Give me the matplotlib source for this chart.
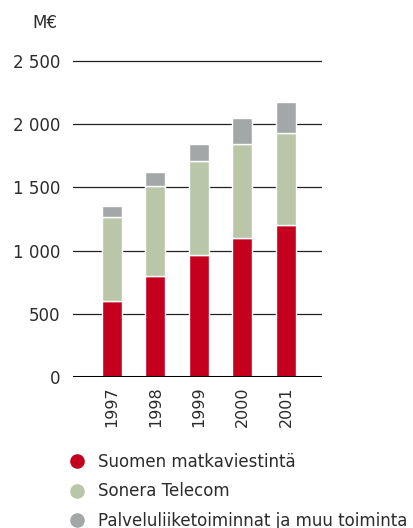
import numpy as np
import matplotlib
matplotlib.use('Agg')
import matplotlib.pyplot as plt
from matplotlib.lines import Line2D

# ── Data (M€)
years   = ['1997', '1998', '1999', '2000', '2001']
mobile  = [604, 799, 963, 1100, 1200]     # Suomen matkaviestintä
telecom = [659, 710, 743, 743, 733]       # Sonera Telecom
other   = [90, 113, 137, 204, 243]        # Palveluliiketoiminnat ja muu toiminta
series_names = ['Suomen matkaviestintä', 'Sonera Telecom',
                'Palveluliiketoiminnat ja muu toiminta']
yticks = [0, 500, 1000, 1500, 2000, 2500]
ytick_labels = ['0', '500', '1 000', '1 500', '2 000', '2 500']

RED   = '#C4001E'
GREEN = '#B9C6A8'
GRAY  = '#A4A7A8'
TXT   = '#2B2B2B'

plt.rcParams['font.family'] = ['DejaVu Sans']

W, H = 414, 528
fig = plt.figure(figsize=(W / 100, H / 100), dpi=100, facecolor='white')

# axes placed in pixel terms
px_per_unit = 63.2 / 500
ymax = 2600
ax_left, ax_right = 73, 322
ax_bottom = 377
ax_top = ax_bottom - ymax * px_per_unit
ax = fig.add_axes([ax_left / W, 1 - ax_bottom / H,
                   (ax_right - ax_left) / W, (ax_bottom - ax_top) / H])

x = np.arange(len(years))
bw = 0.46
kw = dict(width=bw, edgecolor='white', linewidth=1.0, zorder=3)
ax.bar(x, mobile, color=RED, **kw)
ax.bar(x, telecom, bottom=mobile, color=GREEN, **kw)
ax.bar(x, other, bottom=np.add(mobile, telecom), color=GRAY, **kw)

for t in yticks[1:]:
    ax.axhline(t, color='#222222', lw=0.9, zorder=1)
ax.axhline(0, color='black', lw=2.2, zorder=4)

ax.set_xlim(-0.897, 4.83)
ax.set_ylim(0, ymax)
for s in ax.spines.values():
    s.set_visible(False)
ax.set_yticks(yticks)
ax.set_yticklabels(ytick_labels)
ax.tick_params(axis='y', length=0, pad=9, labelsize=12, labelcolor=TXT)
ax.set_xticks(x)
ax.set_xticklabels(years, rotation=90, va='top', ha='center')
ax.tick_params(axis='x', length=0, pad=7, labelsize=11.5, labelcolor=TXT)

fig.text(45 / W, 1 - 23 / H, 'M€', ha='center', va='center',
         fontsize=12, color=TXT)

handles = [Line2D([], [], ls='none', marker='o', markersize=10.5,
                  markerfacecolor=c, markeredgecolor='none')
           for c in (RED, GREEN, GRAY)]
fig.legend(handles, series_names, loc='upper left',
           bbox_to_anchor=(69 / W, 1 - 453 / H), frameon=False,
           fontsize=12, labelcolor=TXT, handlelength=1.0,
           handletextpad=0.75, labelspacing=0.68, borderpad=0,
           borderaxespad=0)

fig.savefig('out.png', dpi=100, facecolor='white')
